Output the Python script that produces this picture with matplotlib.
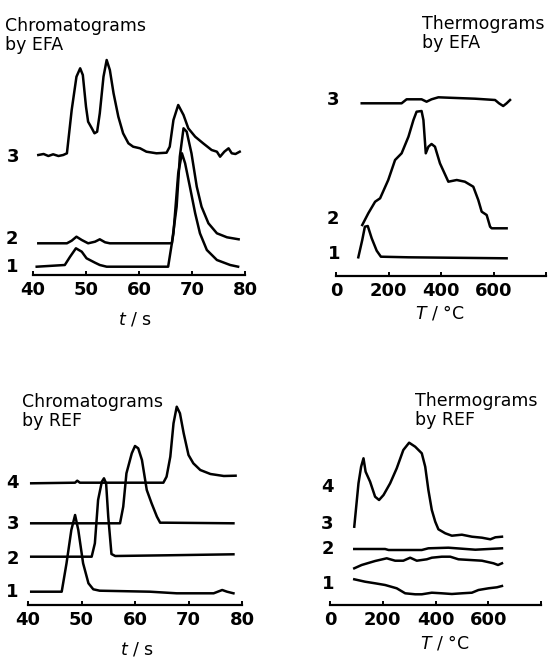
import matplotlib
matplotlib.use("Agg")
import matplotlib.pyplot as plt

# ---- data (heights are arbitrary intensity units) ----
# chromatograms by EFA
efa_c1_t = [40.7, 46.0, 47.0, 48.1, 49.2, 50.1, 51.7, 52.6, 53.9, 65.5, 66.5, 67.4, 68.1, 68.7,
            69.6, 70.6, 71.5, 72.8, 74.7, 77.2, 78.7]
efa_c1_h = [8.3, 10, 18.3, 26.7, 23.3, 16.7, 12.3, 10, 8.3, 8.3, 41.7, 101.7, 121.7, 111.7,
            88.3, 61.7, 41.7, 25, 15, 10, 8.3]
efa_c2_t = [41.0, 46.4, 47.3, 48.2, 49.2, 50.4, 51.7, 52.6, 53.6, 54.5, 66.2, 67.1, 67.7, 68.4,
            69.0, 69.9, 70.9, 71.8, 73.1, 74.7, 76.6, 78.8]
efa_c2_h = [31.7, 31.7, 34.3, 38.3, 35, 31.7, 33.3, 35.7, 32.7, 31.7, 31.7, 68.3, 118.3, 146.7,
            143.3, 121.7, 88.3, 68.3, 51.7, 41.7, 37.7, 35.7]
efa_c3_t = [41.0, 42.0, 42.9, 43.8, 44.8, 45.7, 46.4, 47.3, 48.2, 48.9, 49.4, 50.0, 50.4, 51.1,
            51.6, 52.1, 52.6, 53.3, 53.9, 54.5, 55.2, 56.1, 57.0, 58.0, 58.9, 60.2, 61.4, 63.3,
            65.2, 65.8, 66.5, 67.4, 68.4, 69.3, 70.6, 72.1, 73.7, 74.7, 75.3, 76.1, 76.9, 77.5,
            78.2, 79.0]
efa_c3_h = [120, 121, 119, 120.7, 119, 120, 121.7, 165, 198.3, 206.7, 200, 168.3, 153.3, 146.7,
            141.7, 143.3, 161.7, 198.3, 215, 205, 181.7, 158.3, 141.7, 131.7, 128.3, 126.7, 123.3,
            121.7, 122.3, 128.3, 155, 170, 160, 146.7, 138.3, 131.7, 125, 123.3, 118.3, 123.3,
            126.7, 121.7, 121, 123.3]

# thermograms by EFA
efa_th1_T = [85, 100, 110, 121, 136, 155, 171, 276, 650]
efa_th1_h = [18.7, 36, 49.3, 50, 37.7, 25.3, 19.3, 18.7, 17.7]
efa_th2_T = [100, 123, 149, 168, 199, 225, 250, 276, 295, 307, 326, 333, 342, 352, 364, 377,
             396, 428, 460, 491, 523, 542, 555, 574, 587, 593, 650]
efa_th2_h = [51, 62.7, 74.3, 77.7, 96, 116, 122.7, 139.3, 156, 164.3, 165, 156, 122.7, 129.3,
             132, 129.3, 112.7, 94.3, 96, 94.3, 89.3, 76, 64.3, 61, 49.3, 47.7, 47.7]
efa_th3_T = [98, 250, 269, 326, 345, 364, 390, 428, 530, 606, 621, 637, 650, 663]
efa_th3_h = [172.7, 172.7, 176.7, 176.7, 174.3, 176.7, 178.7, 178.3, 177.3, 176, 172.7, 170,
             172.7, 176]

# chromatograms by REF
ref_c1_t = [40.6, 46.3, 47.2, 48.1, 48.8, 49.4, 50.3, 51.3, 52.2, 53.4, 62.8, 67.8, 74.7, 76.3,
            77.2, 78.4]
ref_c1_h = [13.3, 13.3, 41.7, 75, 90, 75, 41.7, 21.7, 15.7, 14.3, 13.3, 11.7, 11.7, 15, 13.3,
            11.7]
ref_c2_t = [40.6, 51.9, 52.5, 53.1, 53.8, 54.2, 54.6, 55.0, 55.6, 56.3, 65.9, 78.4]
ref_c2_h = [48.3, 48.3, 61.7, 105, 123.3, 126.7, 121.7, 88.3, 51, 49, 49.7, 50.7]
ref_c3_t = [40.6, 57.2, 57.8, 58.4, 59.4, 60.0, 60.6, 61.3, 62.2, 63.1, 64.1, 64.7, 65.9, 78.4]
ref_c3_h = [81.7, 81.7, 98.3, 131.7, 151.7, 159, 156.7, 145, 115, 101.7, 88.3, 82.3, 82.3, 81.7]
ref_c4_t = [40.6, 48.8, 49.2, 49.7, 65.3, 65.9, 66.6, 67.2, 67.8, 68.4, 69.1, 70.0, 70.9, 72.2,
            74.1, 76.6, 78.8]
ref_c4_h = [121.7, 122.3, 124.3, 122.3, 122.3, 128.3, 148.3, 181.7, 198.3, 191.7, 171.7, 150,
            141.7, 135, 131, 129, 129.3]

# thermograms by REF
ref_th1_T = [92, 133, 171, 209, 253, 285, 323, 348, 386, 424, 462, 500, 538, 563, 601, 633, 652]
ref_th1_h = [25.7, 23.3, 21.7, 20, 16.7, 11.7, 10.7, 10.7, 12.3, 11.7, 11, 11.7, 12.3, 15, 16.7,
             17.7, 19]
ref_th2_T = [92, 120, 171, 215, 247, 278, 304, 329, 367, 386, 424, 456, 487, 576, 620, 637, 652]
ref_th2_h = [36.7, 40, 44, 46.7, 44.3, 44.3, 47.3, 44.3, 45.7, 47.3, 48.3, 48.3, 45.7, 44.3,
             41.7, 40, 41.7]
ref_th3_T = [92, 209, 222, 348, 373, 449, 551, 652]
ref_th3_h = [56, 56, 55, 55, 56.7, 57.3, 55.3, 56.7]
ref_th4_T = [92, 108, 118, 127, 135, 152, 171, 186, 203, 228, 253, 278, 300, 323, 348, 361, 373,
             386, 399, 411, 437, 462, 500, 538, 576, 608, 627, 652]
ref_th4_h = [78.3, 121.7, 138.3, 146.7, 133.3, 123.3, 108.3, 105, 110, 121.7, 136.7, 155, 162.3,
             158.3, 151.7, 138.3, 115, 95, 83.3, 75.7, 71.7, 69.3, 70.3, 68.3, 67.3, 65.7, 67.7,
             68.3]

chrom_ticks = [40, 50, 60, 70, 80]
chrom_labels = ["40", "50", "60", "70", "80"]
therm_ticks = [0, 200, 400, 600, 800]
therm_labels = ["0", "200", "400", "600", ""]

# ---- figure ----
W, H = 549, 659
fig = plt.figure(figsize=(W / 100, H / 100), dpi=100)
fig.patch.set_facecolor("white")


def fx(x):
    return x / W


def fy(y):
    return 1 - y / H


def panel(x0, x1, axis_y, top, xlim, ticks, labels):
    ax = fig.add_axes([fx(x0), fy(axis_y), (x1 - x0) / W, (axis_y - top) / H])
    ax.set_xlim(*xlim)
    ax.set_ylim(0, axis_y - top)
    for s in ["left", "right", "top"]:
        ax.spines[s].set_visible(False)
    ax.spines["bottom"].set_linewidth(1.6)
    ax.set_yticks([])
    ax.set_xticks(ticks)
    ax.set_xticklabels(labels, fontsize=13, fontweight="bold")
    ax.tick_params(axis="x", direction="in", length=3, width=1.4, pad=4)
    ax.patch.set_alpha(0)
    return ax


LW = 1.8
ax1 = panel(33, 245, 275, 40, (40, 80), chrom_ticks, chrom_labels)
ax1.plot(efa_c1_t, efa_c1_h, color="black", lw=LW, clip_on=False)
ax1.plot(efa_c2_t, efa_c2_h, color="black", lw=LW, clip_on=False)
ax1.plot(efa_c3_t, efa_c3_h, color="black", lw=LW, clip_on=False)

ax2 = panel(336, 546, 276, 40, (0, 800), therm_ticks, therm_labels)
ax2.plot(efa_th1_T, efa_th1_h, color="black", lw=LW, clip_on=False)
ax2.plot(efa_th2_T, efa_th2_h, color="black", lw=LW, clip_on=False)
ax2.plot(efa_th3_T, efa_th3_h, color="black", lw=LW, clip_on=False)

ax3 = panel(28, 242, 605, 370, (40, 80), chrom_ticks, chrom_labels)
ax3.plot(ref_c1_t, ref_c1_h, color="black", lw=LW, clip_on=False)
ax3.plot(ref_c2_t, ref_c2_h, color="black", lw=LW, clip_on=False)
ax3.plot(ref_c3_t, ref_c3_h, color="black", lw=LW, clip_on=False)
ax3.plot(ref_c4_t, ref_c4_h, color="black", lw=LW, clip_on=False)

ax4 = panel(330, 541, 605, 370, (0, 800), therm_ticks, therm_labels)
ax4.plot(ref_th1_T, ref_th1_h, color="black", lw=LW, clip_on=False)
ax4.plot(ref_th2_T, ref_th2_h, color="black", lw=LW, clip_on=False)
ax4.plot(ref_th3_T, ref_th3_h, color="black", lw=LW, clip_on=False)
ax4.plot(ref_th4_T, ref_th4_h, color="black", lw=LW, clip_on=False)

# titles
title_kw = dict(fontsize=12.5, ha="left", va="top", linespacing=1.05)
fig.text(fx(5), fy(17), "Chromatograms\nby EFA", **title_kw)
fig.text(fx(422), fy(15), "Thermograms\nby EFA", **title_kw)
fig.text(fx(22), fy(393), "Chromatograms\nby REF", **title_kw)
fig.text(fx(415), fy(392), "Thermograms\nby REF", **title_kw)

# curve numbers
num_kw = dict(fontsize=13, fontweight="bold", ha="center", va="center")
for x, y, s in [(13, 157, "3"), (12, 239, "2"), (12, 267, "1"),
                (333, 100, "3"), (333, 219, "2"), (334, 254, "1"),
                (12, 483, "4"), (13, 524, "3"), (13, 559, "2"), (12, 592, "1"),
                (327, 487, "4"), (327, 524, "3"), (328, 549, "2"), (328, 584, "1")]:
    fig.text(fx(x), fy(y), s, **num_kw)

# axis titles
ax_kw = dict(fontsize=12.5, ha="center", va="baseline")
fig.text(fx(135), fy(325), r"$\mathit{t}$ / s", **ax_kw)
fig.text(fx(137), fy(655), r"$\mathit{t}$ / s", **ax_kw)
fig.text(fx(440), fy(318), r"$\mathit{T}$ / °C", **ax_kw)
fig.text(fx(445), fy(648), r"$\mathit{T}$ / °C", **ax_kw)

fig.savefig("out.png", dpi=100)
